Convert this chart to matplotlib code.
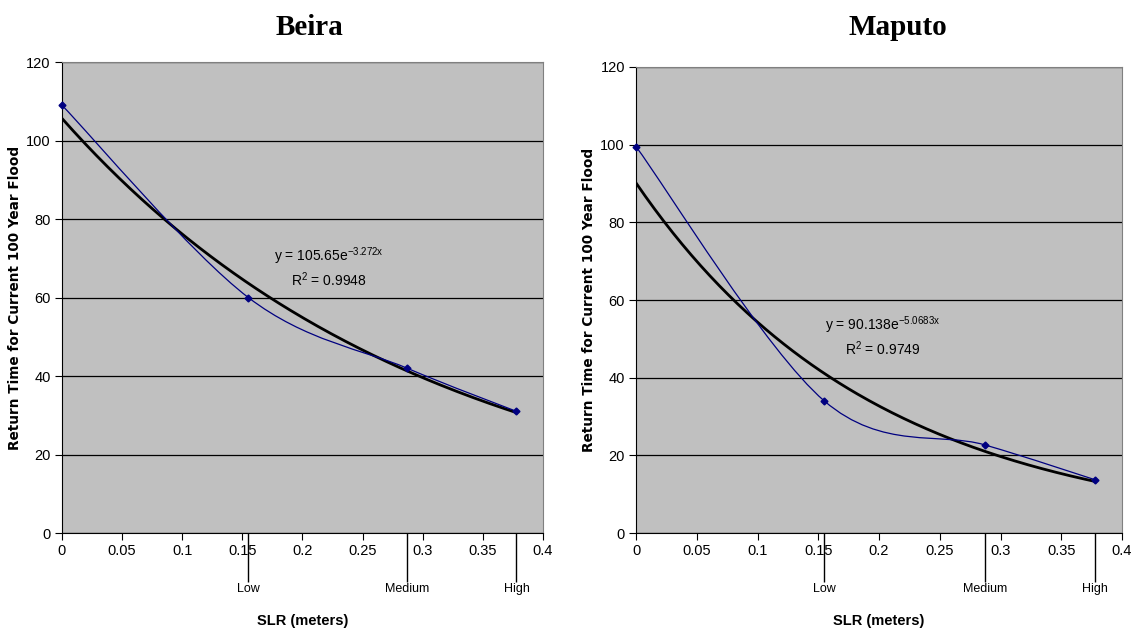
import numpy as np
import matplotlib
matplotlib.use('Agg')
import matplotlib.pyplot as plt
from matplotlib.path import Path
from matplotlib.patches import PathPatch

plt.rcParams['font.family'] = ['Liberation Sans', 'DejaVu Sans']
plt.rcParams['mathtext.fontset'] = 'custom'
plt.rcParams['mathtext.rm'] = 'Liberation Sans'
plt.rcParams['mathtext.default'] = 'regular'

# scenario positions (SLR in meters)
slr = [0.0, 0.155, 0.287, 0.378]
scenario_names = ['Low', 'Medium', 'High']
scenario_slr = [0.155, 0.287, 0.378]

beira_rt = [109.0, 60.0, 42.0, 31.0]
maputo_rt = [99.5, 34.0, 22.7, 13.7]

# exponential trend coefficients shown on the chart
beira_fit = ('105.65', '-3.272', '0.9948')
maputo_fit = ('90.138', '-5.0683', '0.9749')

NAVY = '#000080'
GREY_BG = '#c0c0c0'


def smooth_path(xs, ys):
    # Excel-style smoothed line: cubic Bezier segments through the points
    pts = np.column_stack([xs, ys])
    n = len(pts)
    verts = [pts[0]]
    codes = [Path.MOVETO]
    for i in range(n - 1):
        p0 = pts[max(i - 1, 0)]
        p1 = pts[i]
        p2 = pts[i + 1]
        p3 = pts[min(i + 2, n - 1)]
        c1 = p1 + (p2 - p0) / 6
        c2 = p2 - (p3 - p1) / 6
        verts += [c1, c2, p2]
        codes += [Path.CURVE4] * 3
    return Path(verts, codes)


def panel(ax, ys, fit, txt_xy):
    ax.set_facecolor(GREY_BG)
    ax.set_xlim(0, 0.4)
    ax.set_ylim(0, 120)
    ax.set_yticks(range(0, 121, 20))
    ax.set_xticks(np.arange(0, 0.401, 0.05))
    ax.set_xticklabels(['0', '0.05', '0.1', '0.15', '0.2', '0.25', '0.3', '0.35', '0.4'])
    ax.grid(axis='y', color='black', linewidth=0.9)
    ax.set_axisbelow(True)
    ax.tick_params(which='major', direction='out', length=5, width=0.8, labelsize=10.5, pad=3)
    ax.set_xticks(scenario_slr, minor=True)
    ax.set_xticklabels(scenario_names, minor=True)
    ax.tick_params(axis='x', which='minor', direction='out', length=35, width=1.0, labelsize=9, pad=1)
    for s in ['top', 'right']:
        ax.spines[s].set_color('#808080')
    for s in ['left', 'bottom']:
        ax.spines[s].set_color('black')

    a, b, r2 = fit
    xx = np.linspace(0, max(slr), 200)
    ax.plot(xx, float(a) * np.exp(float(b) * xx), color='black', linewidth=2.0, zorder=3)

    ax.add_patch(PathPatch(smooth_path(slr, ys), facecolor='none', edgecolor=NAVY, linewidth=0.9, zorder=4))
    ax.plot(slr, ys, linestyle='none', marker='D', markersize=3.5, color=NAVY, zorder=5, clip_on=False)

    ax.text(txt_xy[0], txt_xy[1], f'y = {a}e$^{{{b}x}}$', ha='center', va='center', fontsize=10)
    ax.text(txt_xy[0], txt_xy[1] - 6.0, f'R$^{{2}}$ = {r2}', ha='center', va='center', fontsize=10)

    ax.set_xlabel('SLR (meters)', fontsize=10.5, fontweight='bold', labelpad=14)
    ax.set_ylabel('Return Time for Current 100 Year Flood', fontsize=9.8, fontweight='bold',
                  family='DejaVu Sans', labelpad=3)


fig = plt.figure(figsize=(11.37, 6.35), dpi=100)
ax1 = fig.add_axes([0.0545, 0.1606, 0.4230, 0.7417])
ax2 = fig.add_axes([0.5594, 0.1606, 0.4274, 0.7339])

panel(ax1, beira_rt, beira_fit, (0.222, 70.5))
panel(ax2, maputo_rt, maputo_fit, (0.203, 53.5))

fig.text(0.272, 0.957, 'Beira', ha='center', va='center', fontsize=21, fontweight='bold', family='Liberation Serif')
fig.text(0.790, 0.957, 'Maputo', ha='center', va='center', fontsize=21, fontweight='bold', family='Liberation Serif')

fig.savefig('out.png', dpi=100, facecolor='white')
